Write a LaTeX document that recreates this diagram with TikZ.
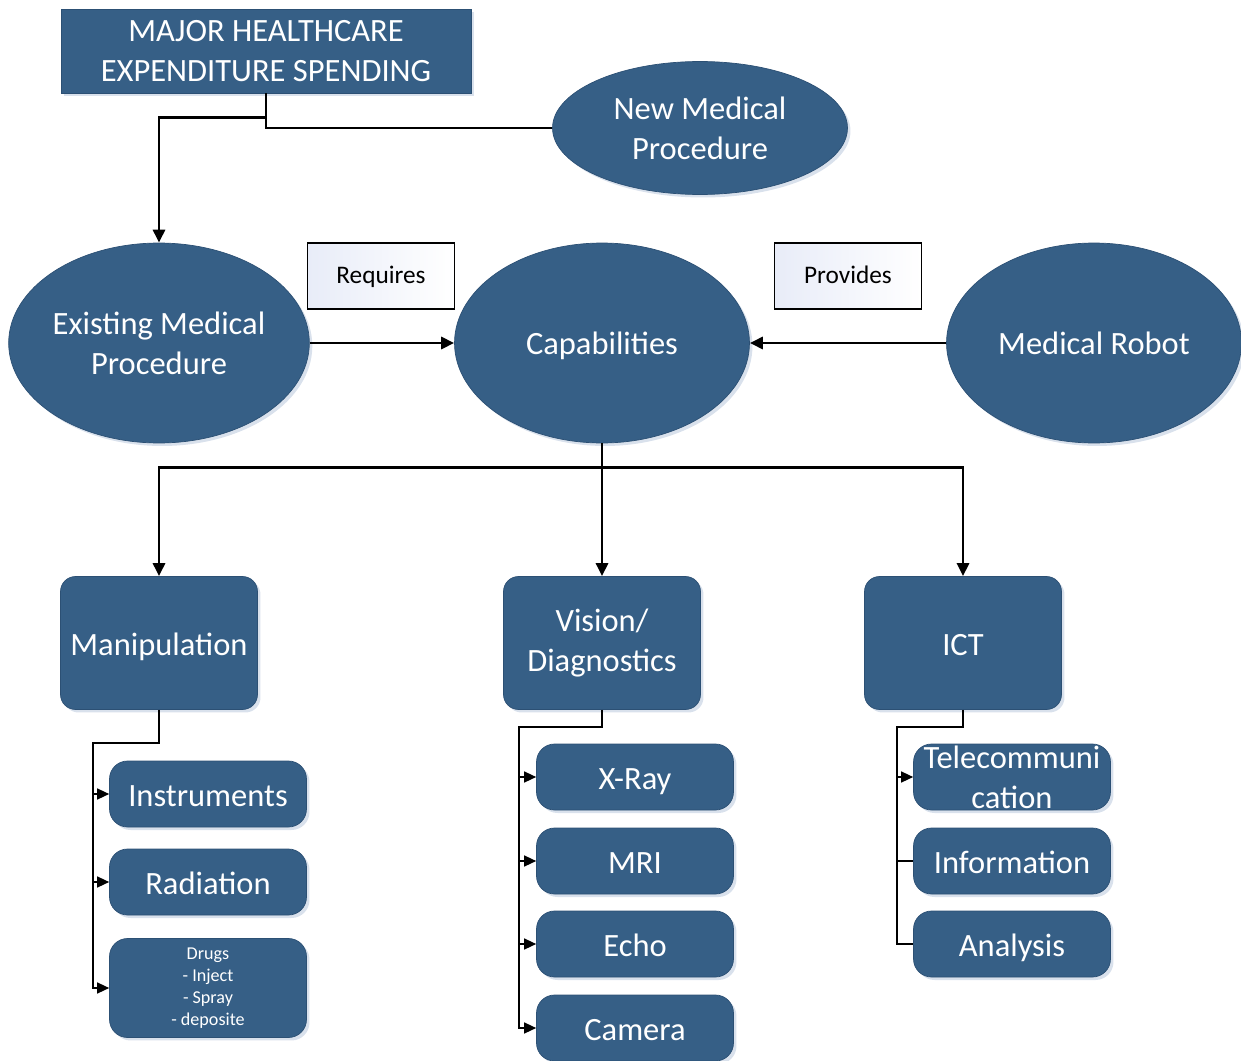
\documentclass[tikz,border=0pt]{standalone}
\usepackage{fontspec}
\setmainfont{Carlito}
\usetikzlibrary{shadows, arrows.meta, positioning, shapes}
\definecolor{my_blue}{RGB}{54, 95, 134}
\definecolor{my_edge}{RGB}{44, 80, 116}
\definecolor{my_tint}{RGB}{232, 236, 248}
\definecolor{my_shade}{RGB}{186, 200, 220}
\newcommand{\nodefont}{\fontsize{18.5}{22.8}\selectfont}
\newcommand{\tagfont}{\fontsize{14.4}{17}\selectfont}
\newcommand{\drugfont}{\fontsize{10.3}{12.6}\selectfont}
\tikzset {
  softshadow/.style = {drop shadow={shadow xshift=0.06cm, shadow yshift=-0.06cm, opacity=0.55, fill=my_shade}},
  oneline/.style = {text height=0.58cm, text depth=0.1cm},
  head/.style = {draw=my_edge, fill=my_blue, text=white, align=center, font=\nodefont, minimum width=8.2cm, minimum height=1.68cm, inner sep=0pt, softshadow},
  proc/.style = {draw=my_edge, ellipse, fill=my_blue, text=white, align=center, font=\nodefont, minimum width=5.9cm, minimum height=4cm, inner sep=0pt, softshadow},
  tag/.style = {draw, line width=0.6pt, left color=my_tint, right color=white, font=\tagfont, minimum width=2.94cm, minimum height=1.32cm, inner sep=0pt, text height=0.4cm, text depth=0.1cm},
  group/.style = {draw=my_edge, fill=my_blue, text=white, align=center, font=\nodefont, rounded corners=0.3cm, minimum width=3.94cm, minimum height=2.66cm, inner sep=0pt, softshadow},
  leaf/.style = {draw=my_edge, fill=my_blue, text=white, align=center, font=\nodefont, rounded corners=0.36cm, minimum width=3.94cm, minimum height=1.32cm, inner sep=0pt, oneline, softshadow},
  line/.style = {line width=1.6pt, color=black, -{Triangle[length=0.26cm, width=0.24cm]}},
  arrowline/.style = {line width=0.8pt, color=black, -{Triangle[length=0.24cm, width=0.22cm]}},
  plainline/.style = {line width=0.8pt, color=black}
}

\begin{document}
\begin{tikzpicture}[x=0.02cm, y=-0.02cm]
    \useasboundingbox (0,0) rectangle (1241,1061);

    \node[head] (spend) at (266,51) {MAJOR HEALTHCARE\\EXPENDITURE SPENDING};
    \node[proc, minimum height=2.66cm] (newproc) at (700,128) {New Medical\\Procedure};
    \node[proc] (existing) at (159,343) {Existing Medical\\Procedure};
    \node[proc, oneline] (capab) at (602,343) {Capabilities};
    \node[proc, oneline] (robot) at (1094,343) {Medical Robot};
    \node[tag] (requires) at (381,276) {Requires};
    \node[tag] (provides) at (848,276) {Provides};

    \node[group, oneline] (manip) at (159,643) {Manipulation};
    \node[group] (vision) at (602,643) {Vision/\\Diagnostics};
    \node[group, oneline] (ict) at (963,643) {ICT};

    % manipulation leaves
    \node[leaf] (instr) at (208,794) {Instruments};
    \node[leaf] (radiation) at (208,882) {Radiation};
    \node[leaf, minimum height=1.98cm, font=\drugfont, text height={}, text depth={}] (drugs) at (208,988) {Drugs\\- Inject\\- Spray\\- deposite};

    % vision leaves
    \node[leaf] (xray) at (635,777) {X-Ray};
    \node[leaf] (mri) at (635,861) {MRI};
    \node[leaf] (echo) at (635,944) {Echo};
    \node[leaf] (camera) at (635,1028) {Camera};

    % ict leaves
    \node[leaf, label={[font=\nodefont, text=white, align=center]center:Telecommuni\\cation}] (telecom) at (1012,777) {};
    \node[leaf] (info) at (1012,861) {Information};
    \node[leaf] (analysis) at (1012,944) {Analysis};

    \draw[line] (spend.south) -- ++(0,24) -| (existing.north);
    \draw[plainline] (spend.south) |- (newproc.west);
    \draw[line] (existing.east) -- (capab.west);
    \draw[line] (robot.west) -- (capab.east);
    \draw[line] (capab.south) -- (vision.north);
    \draw[line] (capab.south) -- ++(0,24) -| (manip.north);
    \draw[line] (capab.south) -- ++(0,24) -| (ict.north);

    \draw[arrowline] (manip.south) -- ++(0,33) -| ([xshift=-0.32cm]drugs.west) -- (drugs.west);
    \draw[arrowline] ([xshift=-0.32cm]instr.west) -- (instr.west);
    \draw[arrowline] ([xshift=-0.32cm]radiation.west) -- (radiation.west);

    \draw[arrowline] (vision.south) -- ++(0,17) -| ([xshift=-0.34cm]camera.west) -- (camera.west);
    \draw[arrowline] ([xshift=-0.34cm]xray.west) -- (xray.west);
    \draw[arrowline] ([xshift=-0.34cm]mri.west) -- (mri.west);
    \draw[arrowline] ([xshift=-0.34cm]echo.west) -- (echo.west);

    \draw[plainline] (ict.south) -- ++(0,17) -| ([xshift=-0.32cm]analysis.west) -- (analysis.west);
    \draw[arrowline] ([xshift=-0.32cm]telecom.west) -- (telecom.west);
    \draw[plainline] ([xshift=-0.32cm]info.west) -- (info.west);

\end{tikzpicture}
\end{document}
